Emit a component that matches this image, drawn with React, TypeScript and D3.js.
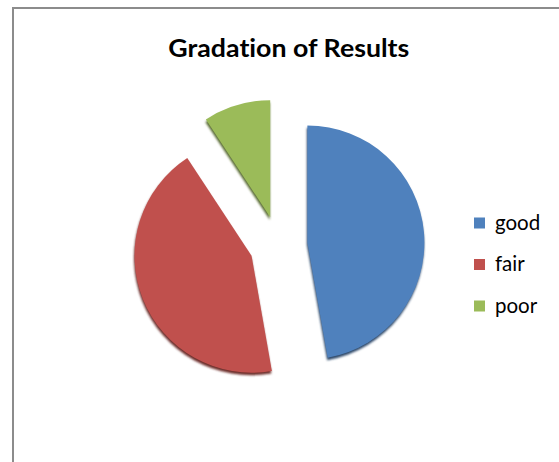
import * as d3 from "d3";
import { useEffect, useRef } from "react";

const categories = ["good", "fair", "poor"];
const values = [51, 47, 10];
const colors = ["#4F81BD", "#C0504D", "#9BBB59"];
const title = "Gradation of Results";

export default function App() {
  const ref = useRef<SVGSVGElement>(null);

  useEffect(() => {
    const svg = d3.select(ref.current);
    svg.selectAll("*").remove();

    const width = 559;
    const height = 462;
    const cx = 278.5;
    const cy = 245;
    const radius = 117;
    const explode = 29;

    svg.attr("width", width).attr("height", height);

    // background + chart border
    svg.append("rect").attr("width", width).attr("height", height).attr("fill", "#fff");
    svg
      .append("rect")
      .attr("x", 13)
      .attr("y", 8)
      .attr("width", width + 20)
      .attr("height", height + 20)
      .attr("fill", "#fff")
      .attr("stroke", "#8c8c8c")
      .attr("stroke-width", 2);

    const defs = svg.append("defs");
    defs
      .append("filter")
      .attr("id", "blur")
      .attr("x", "-10%")
      .attr("y", "-10%")
      .attr("width", "120%")
      .attr("height", "120%")
      .append("feGaussianBlur")
      .attr("stdDeviation", 0.9);

    // Title
    svg
      .append("text")
      .attr("x", 288.8)
      .attr("y", 56.5)
      .attr("text-anchor", "middle")
      .attr("font-family", "Lato, 'Open Sans', sans-serif")
      .attr("font-weight", "bold")
      .attr("font-size", 25.5)
      .attr("textLength", 241)
      .attr("lengthAdjust", "spacingAndGlyphs")
      .style("font-variant-ligatures", "none")
      .attr("fill", "#000")
      .text(title);

    // Pie
    const pie = d3
      .pie<number>()
      .sort(null)
      .value((d) => d);
    const arcs = pie(values);
    const arc = d3.arc<d3.PieArcDatum<number>>().innerRadius(0).outerRadius(radius);

    const g = svg.append("g").attr("transform", `translate(${cx},${cy})`);

    const offset = (d: d3.PieArcDatum<number>) => {
      const a = (d.startAngle + d.endAngle) / 2;
      return [Math.sin(a) * explode, -Math.cos(a) * explode];
    };

    // shadows
    g.selectAll("path.shadow")
      .data(arcs)
      .enter()
      .append("path")
      .attr("class", "shadow")
      .attr("d", arc)
      .attr("fill", (d, i) => d3.color(colors[i])!.darker(1.6).toString())
      .attr("filter", "url(#blur)")
      .attr("transform", (d) => {
        const [ox, oy] = offset(d);
        return `translate(${ox - 0.5},${oy + 2.5})`;
      });

    // slices
    g.selectAll("path.slice")
      .data(arcs)
      .enter()
      .append("path")
      .attr("class", "slice")
      .attr("d", arc)
      .attr("fill", (d, i) => colors[i])
      .attr("transform", (d) => {
        const [ox, oy] = offset(d);
        return `translate(${ox},${oy})`;
      });

    // Legend
    const legendY = d3.scalePoint<string>().domain(categories).range([223, 306]);
    const legend = svg
      .selectAll("g.legend")
      .data(categories)
      .enter()
      .append("g")
      .attr("class", "legend")
      .attr("transform", (d) => `translate(474,${legendY(d)})`);

    legend
      .append("rect")
      .attr("x", 0)
      .attr("y", -5.5)
      .attr("width", 11)
      .attr("height", 11)
      .attr("fill", (d, i) => colors[i]);

    legend
      .append("text")
      .attr("x", 21)
      .attr("y", 6.5)
      .attr("font-family", "Lato, 'Open Sans', sans-serif")
      .attr("font-size", 20.5)
      .attr("fill", "#000")
      .text((d) => d);
  }, []);

  return <svg ref={ref} style={{ position: "absolute", left: 0, top: 0, display: "block" }} />;
}
